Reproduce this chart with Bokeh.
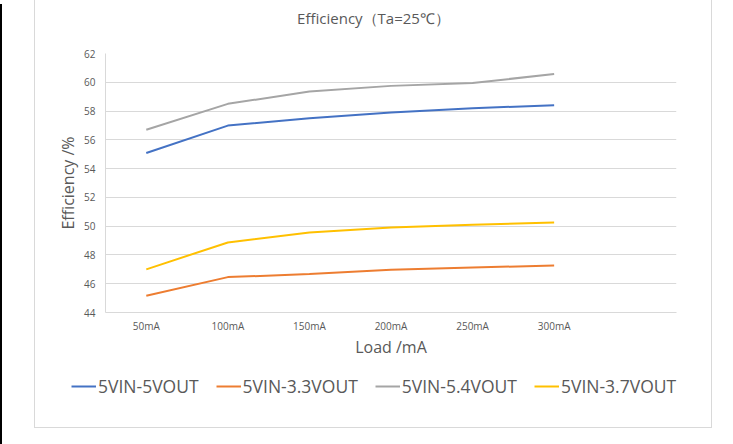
from bokeh.plotting import figure
from bokeh.models import (FactorRange, Legend, LegendItem, Div, Spacer, Label,
                          Range1d, FixedTicker)
from bokeh.layouts import row, column
from bokeh.embed import file_html
from bokeh.resources import INLINE

# ---- data ----
categories = ["50mA", "100mA", "150mA", "200mA", "250mA", "300mA"]
blank_category = " "
eff_5vin_5vout = [55.08, 56.99, 57.50, 57.90, 58.20, 58.40]
eff_5vin_3v3out = [45.17, 46.46, 46.67, 46.97, 47.13, 47.26]
eff_5vin_5v4out = [56.70, 58.50, 59.36, 59.75, 59.95, 60.57]
eff_5vin_3v7out = [47.00, 48.87, 49.56, 49.90, 50.10, 50.25]
series_names = ["5VIN-5VOUT", "5VIN-3.3VOUT", "5VIN-5.4VOUT", "5VIN-3.7VOUT"]
series_colors = ["#4472C4", "#ED7D31", "#A5A5A5", "#FFC000"]
y_ticks = [44, 46, 48, 50, 52, 54, 56, 58, 60, 62]
title_text = "Efficiency（Ta=25℃）"
x_title = "Load /mA"
y_title = "Efficiency /%"

FONT = "Open Sans"
TXT = "#595959"
GRID = "#d9d9d9"


def strip(h):
    f = figure(
        width=676, height=h, x_range=Range1d(0, 1), y_range=Range1d(0, 1),
        output_backend="svg", toolbar_location=None,
        x_axis_location=None, y_axis_location=None,
        min_border=0, min_border_left=0, min_border_right=0,
        min_border_top=0, min_border_bottom=0,
        background_fill_color="white", border_fill_color="white",
        outline_line_color=None,
    )
    f.frame_align = False
    f.xgrid.visible = False
    f.ygrid.visible = False
    return f


# ---- title strip ----
t = strip(30)
t.add_layout(Label(x=338, y=13, x_units="screen", y_units="screen",
                   text=title_text, text_align="center", text_baseline="middle",
                   text_font=FONT, text_font_size="15px", text_color=TXT))

# ---- main chart ----
p = figure(
    width=676, height=330,
    x_range=FactorRange(*(categories + [blank_category])),
    y_range=Range1d(y_ticks[0], y_ticks[-1]),
    output_backend="svg", toolbar_location=None,
    min_border_left=70, min_border_right=35,
    min_border_top=23, min_border_bottom=44,
    background_fill_color="white", border_fill_color="white",
    outline_line_color=None,
)
p.frame_align = False

for ax in (p.xaxis[0], p.yaxis[0]):
    ax.axis_line_color = GRID
    ax.major_tick_line_color = None
    ax.minor_tick_line_color = None
    ax.major_label_text_font = FONT
    ax.major_label_text_font_size = "10px"
    ax.major_label_text_color = TXT
    ax.axis_label_text_font = FONT
    ax.axis_label_text_font_size = "16px"
    ax.axis_label_text_font_style = "normal"
    ax.axis_label_text_color = TXT

p.xaxis[0].axis_label = x_title
p.xaxis[0].major_label_standoff = 0
p.xaxis[0].axis_label_standoff = 0
p.yaxis[0].axis_label = y_title
p.yaxis[0].ticker = FixedTicker(ticks=y_ticks)
p.yaxis[0].major_label_standoff = 4
p.yaxis[0].axis_label_standoff = 2

p.xgrid.grid_line_color = None
p.ygrid.grid_line_color = GRID
p.ygrid.ticker = FixedTicker(ticks=y_ticks)

series = [eff_5vin_5vout, eff_5vin_3v3out, eff_5vin_5v4out, eff_5vin_3v7out]
for vals, col in zip(series, series_colors):
    p.line(x=categories, y=vals, line_color=col, line_width=2)

# ---- legend strip: same series, kept outside its (empty) view so only the key shows ----
q = strip(67)
items = []
for name, vals, col in zip(series_names, series, series_colors):
    r = q.line(x=list(range(len(vals))), y=vals, line_color=col, line_width=2)
    items.append(LegendItem(label=name, renderers=[r]))
legend = Legend(items=items, orientation="horizontal", location=(36, 29),
                padding=0, margin=0, spacing=17, glyph_width=25, glyph_height=20,
                label_height=20, label_standoff=2, border_line_color=None,
                background_fill_alpha=0, label_text_font=FONT,
                label_text_font_size="17.5px", label_text_color=TXT)
q.add_layout(legend, "center")

chart = column(t, p, q)
chart.styles = {"border": "1px solid #d9d9d9"}

bar = Div(text="", width=5, height=444, styles={"background-color": "#000000"})
layout = row(bar, Spacer(width=27), chart)
layout.margin = (-1, 0, 0, -8)

open("out.html", "w").write(file_html(layout, INLINE))
